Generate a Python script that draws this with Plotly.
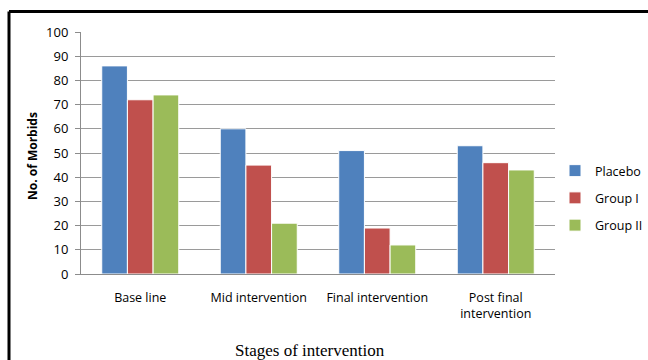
import plotly.graph_objects as go

categories = ["Base line", "Mid intervention", "Final intervention", "Post final<br>intervention"]
placebo = [86, 60, 51, 53]
group1 = [72, 45, 19, 46]
group2 = [74, 21, 12, 43]
series_names = ["Placebo", "Group I", "Group II"]
colors = ["#4F81BD", "#C0504D", "#9BBB59"]
y_ticks = list(range(0, 101, 10))

W, H = 648, 360
L, R, T, B = 81, 555, 32, 274  # plot area in pixels

fig = go.Figure()
for name, vals, col in zip(series_names, [placebo, group1, group2], colors):
    fig.add_trace(go.Bar(
        x=categories, y=vals, name=name, legendgroup=name,
        marker=dict(color=col, line=dict(color="white", width=1)),
    ))

def px(xp):
    return (xp - L) / (R - L)

def py(yp):
    return (B - yp) / (B - T)

font_main = "Open Sans, Noto Sans, sans-serif"

fig.update_layout(
    width=W, height=H,
    margin=dict(l=L, r=W - R, t=T, b=H - B, pad=0, autoexpand=False),
    paper_bgcolor="white", plot_bgcolor="white",
    barmode="group", bargap=0.35, bargroupgap=0.0,
    font=dict(family=font_main, size=12.5, color="#000000"),
    showlegend=True,
    legend=dict(
        x=px(555), y=py(198), xanchor="left", yanchor="middle",
        font=dict(family=font_main, size=12.5, color="#000000"),
        tracegroupgap=8, bgcolor="rgba(0,0,0,0)", borderwidth=0,
        itemwidth=30,
    ),
    xaxis=dict(
        showgrid=False, showline=True, linecolor="#8c8c8c", linewidth=1,
        ticks="outside", ticklen=12, tickcolor="rgba(0,0,0,0)",
        tickfont=dict(family=font_main, size=12.5, color="#000000"),
        fixedrange=True,
    ),
    yaxis=dict(
        range=[0, 100], tickvals=y_ticks,
        showgrid=True, gridcolor="#9a9a9a", gridwidth=1.3,
        showline=True, linecolor="#8c8c8c", linewidth=1,
        ticks="outside", ticklen=5, tickcolor="#8c8c8c",
        tickfont=dict(family=font_main, size=13, color="#000000"),
        ticklabelstandoff=4,
        zeroline=False, fixedrange=True,
    ),
    annotations=[
        dict(text="<b>No. of Morbids</b>", textangle=-90,
             x=px(32), y=py(156), xref="paper", yref="paper",
             xanchor="center", yanchor="middle", showarrow=False,
             font=dict(family=font_main, size=12, color="#000000")),
        dict(text="Stages of intervention",
             x=px(310), y=py(350), xref="paper", yref="paper",
             xanchor="center", yanchor="middle", showarrow=False,
             font=dict(family="Liberation Serif, Times New Roman, serif", size=17, color="#000000")),
    ],
    shapes=[
        dict(type="line", xref="paper", yref="paper",
             x0=px(9), x1=px(700), y0=py(11.5), y1=py(11.5),
             line=dict(color="black", width=3)),
        dict(type="line", xref="paper", yref="paper",
             x0=px(9), x1=px(9), y0=py(11.5), y1=py(400),
             line=dict(color="black", width=3)),
    ],
)

fig.write_html(
    "out.html",
    config={"displayModeBar": False},
    post_script="document.body.style.margin='0';document.body.style.overflow='hidden';",
)
